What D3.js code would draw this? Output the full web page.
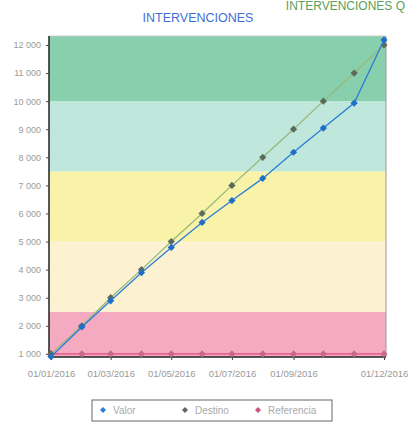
<!DOCTYPE html>
<html><head><meta charset="utf-8">
<script src="https://cdn.jsdelivr.net/npm/d3@7"></script>
<style>body{margin:0;background:#fff;}svg{display:block;font-family:"Liberation Sans",Arial,sans-serif;}</style>
</head><body>
<svg id="c" width="408" height="423"></svg>
<script>
const months = ["2016-01-01","2016-02-01","2016-03-01","2016-04-01","2016-05-01","2016-06-01","2016-07-01","2016-08-01","2016-09-01","2016-10-01","2016-11-01","2016-12-01"];
const valor = [900,1960,2890,3890,4790,5680,6460,7250,8180,9040,9930,12180];
const destino = [1000,2000,3000,4000,5000,6000,7000,8000,9000,10000,11000,12000];
const referencia = [1000,1000,1000,1000,1000,1000,1000,1000,1000,1000,1000,1000];
const yTicks = [1000,2000,3000,4000,5000,6000,7000,8000,9000,10000,11000,12000];
const xTicks = ["2016-01-01","2016-03-01","2016-05-01","2016-07-01","2016-09-01","2016-12-01"];
const bandBreaks = [889,2500,5000,7500,10000,12320];
const bandColors = ["#f4abc2","#fcf2d2","#f8f3a9","#bfe7dc","#87cfad"];
const seriesNames = ["Valor","Destino","Referencia"];

const svg = d3.select("#c");
const parse = d3.timeParse("%Y-%m-%d");
const x = d3.scaleTime().domain([parse(months[0]), parse(months[11])]).range([51,384]);
const y = d3.scaleLinear().domain([889,12320]).range([357,36]);
const L = 49, R = 386, T = 36, B = 357;

// header
svg.append("text").attr("x",405).attr("y",10).attr("text-anchor","end")
  .attr("font-size",12).attr("fill","#5aa05a").text("INTERVENCIONES Q");
svg.append("text").attr("x",198).attr("y",22).attr("text-anchor","middle")
  .attr("font-size",12.5).attr("fill","#3f6fd6").text("INTERVENCIONES");

// bands
for (let i=0;i<bandColors.length;i++){
  svg.append("rect").attr("x",L).attr("width",R-L)
    .attr("y",y(bandBreaks[i+1])).attr("height",y(bandBreaks[i])-y(bandBreaks[i+1]))
    .attr("fill",bandColors[i]);
}
svg.append("line").attr("x1",R).attr("x2",R).attr("y1",T).attr("y2",B).attr("stroke","#999");
svg.append("line").attr("x1",L).attr("x2",R).attr("y1",T).attr("y2",T).attr("stroke","#ccc");

// axes
const yAxis = d3.axisLeft(y).tickValues(yTicks).tickSize(3)
  .tickFormat(d => d3.format(",")(d).replace(/,/g," "));
const gy = svg.append("g").attr("transform",`translate(${L},0)`).call(yAxis);
gy.select(".domain").attr("stroke","#222").attr("stroke-width",1.5).attr("d",`M0,${T}V${B}`);
gy.selectAll(".tick line").attr("stroke","#444");
gy.selectAll("text").attr("fill","#999").attr("font-size",9).attr("x",-8);

const xAxis = d3.axisBottom(x).tickValues(xTicks.map(parse)).tickSize(3).tickFormat(d3.timeFormat("%d/%m/%Y"));
const gx = svg.append("g").attr("transform",`translate(0,${B})`).call(xAxis);
gx.select(".domain").attr("stroke","#222").attr("stroke-width",1.5).attr("d",`M${L},0H${R}`);
gx.selectAll(".tick line").attr("stroke","#444");
gx.selectAll("text").attr("fill","#999").attr("font-size",9.5).attr("dy","1.5em");

const line = d3.line().x((d,i)=>x(parse(months[i]))).y(d=>y(d));
const series = [
  {vals: referencia, stroke:"#e2487c", mark:"#c86a86"},
  {vals: destino, stroke:"#9ab878", mark:"#5b6a5c"},
  {vals: valor, stroke:"#2a7fd6", mark:"#1f6fc8"}
];
const sym = d3.symbol().type(d3.symbolSquare).size(26);
series.forEach(s=>{
  svg.append("path").attr("d",line(s.vals)).attr("fill","none").attr("stroke",s.stroke).attr("stroke-width",1.3);
  svg.selectAll(null).data(s.vals).enter().append("path").attr("d",sym)
    .attr("transform",(d,i)=>`translate(${x(parse(months[i]))},${y(d)}) rotate(45)`).attr("fill",s.mark);
});

// legend
const lg = svg.append("g");
lg.append("rect").attr("x",92).attr("y",400).attr("width",240).attr("height",21)
  .attr("fill","#fff").attr("stroke","#666");
const legCols = ["#2a7fd6","#5b6a5c","#d0507a"];
const legX = [103,185,258];
seriesNames.forEach((n,i)=>{
  lg.append("path").attr("d",d3.symbol().type(d3.symbolSquare).size(18)).attr("transform",`translate(${legX[i]},410) rotate(45)`).attr("fill",legCols[i]);
  lg.append("text").attr("x",legX[i]+10).attr("y",414).attr("font-size",10).attr("fill","#aaa").text(n);
});
</script>
</body></html>
